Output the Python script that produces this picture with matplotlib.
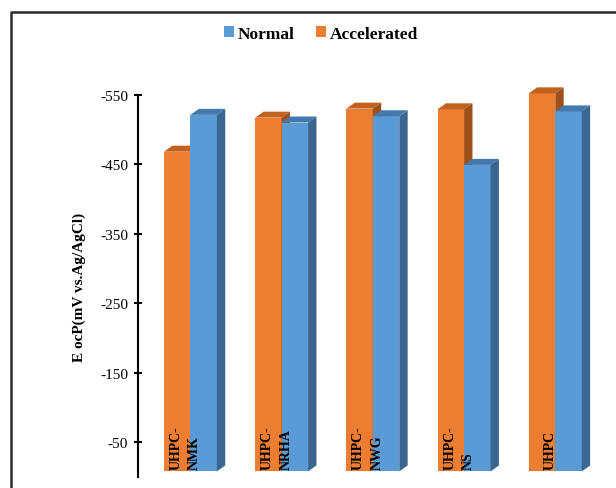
import numpy as np
import matplotlib.pyplot as plt
from matplotlib.patches import Patch
from matplotlib.lines import Line2D

# Open circuit potential per mix, normal vs accelerated curing
mixes = ['UHPC-\nNMK', 'UHPC-\nNRHA', 'UHPC-\nNWG', 'UHPC-\nNS', 'UHPC']
normal = [-521, -510, -519, -449, -526]
accelerated = [-468, -517, -530, -529, -552]
yticks = [-550, -450, -350, -250, -150, -50]

ORANGE = ('#ED7D31', '#C3621F', '#9E501B')   # front, top, side
BLUE = ('#5B9BD5', '#4479AE', '#3A6690')

plt.rcParams['axes.unicode_minus'] = False
plt.rcParams['font.family'] = ['Liberation Serif', 'DejaVu Serif']


def draw_bar3d(ax, x0, value, width, dx, dy, colors, floor):
    """Front face via ax.bar plus a top and side face for a fake depth."""
    front, top, side = colors
    ax.bar(x0, value - floor, width=width, bottom=floor, align='edge',
           color=front, edgecolor='none', clip_on=False, zorder=2)
    ax.fill([x0, x0 + width, x0 + width + dx, x0 + dx],
            [value, value, value - dy, value - dy],
            color=top, lw=0, clip_on=False, zorder=2)
    ax.fill([x0 + width, x0 + width, x0 + width + dx, x0 + width + dx],
            [floor, value, value - dy, floor - dy],
            color=side, lw=0, clip_on=False, zorder=2)


fig = plt.figure(figsize=(6.16, 4.89), dpi=100)
ax = fig.add_axes([0.2245, 0.0225, 0.7658, 0.7818])

x = np.arange(len(mixes))
width = 0.29
dx, dy = 0.092, 8.6
floor = -8

for i in x:
    # accelerated first so the normal bar sits over its side face
    draw_bar3d(ax, i - width, accelerated[i], width, dx, dy, ORANGE, floor)
    draw_bar3d(ax, i, normal[i], width, dx, dy, BLUE, floor)
    ax.text(i - 0.055, -12, mixes[i], rotation=90, ha='center', va='bottom',
            multialignment='left', fontsize=10, fontweight='bold',
            linespacing=1.55, zorder=3)

ax.set_xlim(-0.571, 4.60)
ax.set_ylim(0, -550)
ax.set_yticks(yticks)
ax.set_xticks([])
for side in ['top', 'right', 'bottom']:
    ax.spines[side].set_visible(False)
ax.spines['left'].set_linewidth(1.5)
ax.spines['left'].set_bounds(0, -550)
ax.tick_params(axis='y', direction='inout', length=6, width=1.5,
               labelsize=11, pad=4.5)

fig.text(79 / 616, 1 - 287 / 489, 'E ocP(mV vs.Ag/AgCl)', rotation=90,
         ha='center', va='center', fontsize=11, fontweight='bold')

handles = [Patch(facecolor=BLUE[0], label='Normal'),
           Patch(facecolor=ORANGE[0], label='Accelerated')]
fig.legend(handles=handles, loc='center', bbox_to_anchor=(321 / 616, 1 - 35 / 489),
           ncol=2, frameon=False, handlelength=0.6, handleheight=0.6,
           handletextpad=0.2, columnspacing=1.2,
           prop={'weight': 'bold', 'size': 12.5})

# chart frame, open at the right and bottom
fig.add_artist(Line2D([10.5 / 616, 10.5 / 616, 1.01], [-0.01, 1 - 12.5 / 489, 1 - 12.5 / 489],
                      transform=fig.transFigure, color='#2b2b2b', lw=1.8))

fig.savefig('out.png', dpi=100)
